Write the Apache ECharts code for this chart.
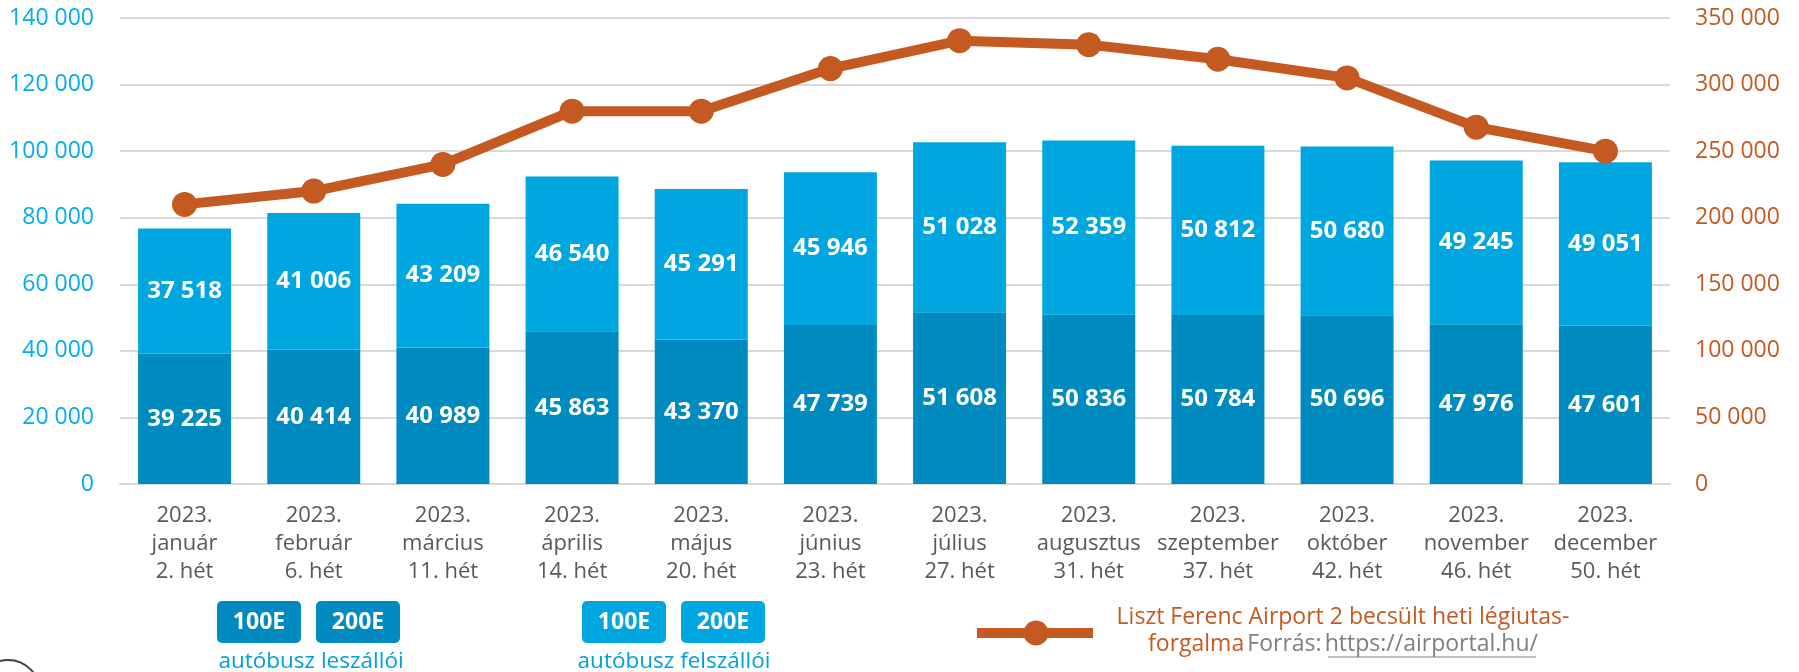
<!DOCTYPE html>
<html>
<head>
<meta charset="utf-8">
<script src="https://cdn.jsdelivr.net/npm/echarts@6/dist/echarts.min.js"></script>
<style>
  html, body { margin: 0; padding: 0; background: #fff; }
  #chart { width: 1799px; height: 672px; }
</style>
</head>
<body>
<div id="chart"></div>
<script>
// heti adatok
var categories = [
  '2023.\njanuár\n2. hét', '2023.\nfebruár\n6. hét', '2023.\nmárcius\n11. hét',
  '2023.\náprilis\n14. hét', '2023.\nmájus\n20. hét', '2023.\njúnius\n23. hét',
  '2023.\njúlius\n27. hét', '2023.\naugusztus\n31. hét', '2023.\nszeptember\n37. hét',
  '2023.\noktóber\n42. hét', '2023.\nnovember\n46. hét', '2023.\ndecember\n50. hét'
];
var leszallok = [39225, 40414, 40989, 45863, 43370, 47739, 51608, 50836, 50784, 50696, 47976, 47601];
var felszallok = [37518, 41006, 43209, 46540, 45291, 45946, 51028, 52359, 50812, 50680, 49245, 49051];
// becsült heti légiutas-forgalma (leolvasva)
var legiforgalom = [210000, 220000, 240000, 280000, 280000, 312000, 333000, 330000, 319000, 305000, 268000, 250000];

var leftTicks = { min: 0, max: 140000, interval: 20000 };
var rightTicks = { min: 0, max: 350000, interval: 50000 };

var DARK = '#008BC0', LIGHT = '#00A6DF', ORANGE = '#C45A22', GRAY = '#595959';
var FONT = '"Open Sans", "Noto Sans", sans-serif';

function thousands(v) {
  return String(v).replace(/\B(?=(\d{3})+(?!\d))/g, ' ');
}

var myChart = echarts.init(document.getElementById('chart'));

var barLabel = {
  show: true,
  position: 'inside',
  color: '#fff',
  fontWeight: 'bold',
  fontSize: 24,
  fontFamily: FONT,
  formatter: function (p) { return thousands(p.value); }
};

function legendBox(x, text, color) {
  return {
    type: 'group',
    left: x, top: 601,
    children: [
      { type: 'rect', shape: { x: 0, y: 0, width: 84, height: 42, r: 5 }, style: { fill: color } },
      { type: 'text', x: 42, y: 21, style: { text: text, fill: '#fff', fontSize: 23, fontWeight: 'bold', fontFamily: FONT, align: 'center', verticalAlign: 'middle' } }
    ]
  };
}

var option = {
  animation: false,
  backgroundColor: '#fff',
  textStyle: { fontFamily: FONT },
  grid: { left: 120, right: 129, top: 18, bottom: 188 },
  xAxis: {
    type: 'category',
    data: categories,
    axisTick: { show: false },
    axisLine: { lineStyle: { color: '#D9D9D9', width: 2 } },
    axisLabel: { color: GRAY, fontSize: 22, lineHeight: 28, margin: 18, interval: 0, fontFamily: FONT }
  },
  yAxis: [
    {
      type: 'value',
      min: leftTicks.min, max: leftTicks.max, interval: leftTicks.interval,
      axisLine: { show: false }, axisTick: { show: false },
      splitLine: { lineStyle: { color: '#D9D9D9', width: 2 } },
      axisLabel: { color: '#00AEEF', fontSize: 23, margin: 26, fontFamily: FONT, formatter: thousands }
    },
    {
      type: 'value',
      min: rightTicks.min, max: rightTicks.max, interval: rightTicks.interval,
      axisLine: { show: false }, axisTick: { show: false },
      splitLine: { show: false },
      axisLabel: { color: ORANGE, fontSize: 23, margin: 25, fontFamily: FONT, formatter: thousands }
    }
  ],
  series: [
    {
      name: 'autóbusz leszállói', type: 'bar', stack: 'busz',
      data: leszallok, barCategoryGap: '28%',
      itemStyle: { color: DARK }, label: barLabel
    },
    {
      name: 'autóbusz felszállói', type: 'bar', stack: 'busz',
      data: felszallok,
      itemStyle: { color: LIGHT }, label: barLabel
    },
    {
      name: 'Liszt Ferenc Airport 2', type: 'line', yAxisIndex: 1,
      data: legiforgalom, z: 5,
      lineStyle: { color: ORANGE, width: 10 },
      itemStyle: { color: ORANGE },
      symbol: 'circle', symbolSize: 25
    }
  ],
  graphic: [
    legendBox(217, '100E', DARK),
    legendBox(316, '200E', DARK),
    { type: 'text', x: 311, y: 662, style: { text: 'autóbusz leszállói', fill: '#00A0DC', fontSize: 22.5, fontFamily: FONT, align: 'center', verticalAlign: 'middle' } },
    legendBox(582, '100E', LIGHT),
    legendBox(681, '200E', LIGHT),
    { type: 'text', x: 674, y: 662, style: { text: 'autóbusz felszállói', fill: '#00A0DC', fontSize: 22.5, fontFamily: FONT, align: 'center', verticalAlign: 'middle' } },
    // vonal jelmagyarázat
    { type: 'line', shape: { x1: 977, y1: 633, x2: 1093, y2: 633 }, style: { stroke: ORANGE, lineWidth: 10 } },
    { type: 'circle', shape: { cx: 1036, cy: 633, r: 12.5 }, style: { fill: ORANGE } },
    {
      type: 'text', x: 1343, y: 631,
      style: {
        text: '{o|Liszt Ferenc Airport 2 becsült heti légiutas-}\n{o|forgalma} {g|Forrás:} {g|https://airportal.hu/}',
        align: 'center', verticalAlign: 'middle', fontFamily: FONT,
        rich: {
          o: { fill: ORANGE, fontSize: 23, lineHeight: 27, fontFamily: FONT },
          g: { fill: '#7F7F7F', fontSize: 23, lineHeight: 27, fontFamily: FONT }
        }
      }
    },
    { type: 'line', shape: { x1: 1328, y1: 657, x2: 1536, y2: 657 }, style: { stroke: '#7F7F7F', lineWidth: 1 } },
    { type: 'circle', shape: { cx: 8, cy: 692, r: 32 }, style: { fill: 'none', stroke: '#404040', lineWidth: 2 } }
  ]
};

myChart.setOption(option);
</script>
</body>
</html>
